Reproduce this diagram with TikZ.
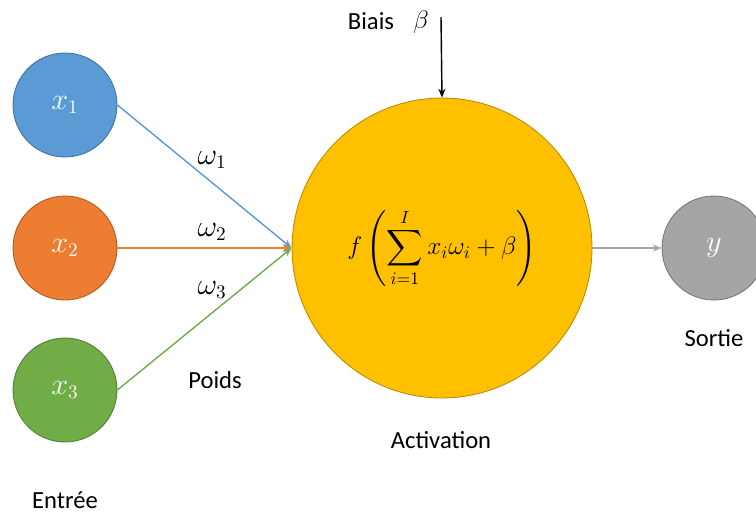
\documentclass[tikz,border=0pt]{standalone}
\usepackage{amsmath}
\usepackage{fontspec}
\setmainfont{Carlito}
\usetikzlibrary{arrows.meta,positioning}
\definecolor{bleu}{HTML}{5B9BD5}
\definecolor{bleuB}{HTML}{41719C}
\definecolor{orange}{HTML}{ED7D31}
\definecolor{orangeB}{HTML}{AE5A21}
\definecolor{vert}{HTML}{70AD47}
\definecolor{vertB}{HTML}{507E32}
\definecolor{jaune}{HTML}{FFC000}
\definecolor{jauneB}{HTML}{BC8C00}
\definecolor{gris}{HTML}{A5A5A5}
\definecolor{grisB}{HTML}{787878}

\begin{document}
\begin{tikzpicture}[x=0.02cm, y=-0.02cm,
  every node/.style={align=center, font=\fontsize{14}{17}\selectfont},
  neurone/.style={circle, draw, line width=0.5pt, minimum size=2.08cm, inner sep=0pt,
    text=white, font=\fontsize{16}{19}\selectfont},
  poids/.style={font=\fontsize{16}{19}\selectfont},
  lien/.style={-{Stealth[length=5pt,width=4pt]}, line width=0.8pt}]
  \clip (0,0) rectangle (756,518);
  \node[neurone, fill=bleu, draw=bleuB] (x1) at (65,105) {$x_1$};
  \node[neurone, fill=orange, draw=orangeB] (x2) at (65,248) {$x_2$};
  \node[neurone, fill=vert, draw=vertB] (x3) at (65,390) {$x_3$};
  \node[neurone, fill=jaune, draw=jauneB, minimum size=6cm, text=black,
    font=\fontsize{14}{17}\selectfont] (act) at (442,248)
    {$\displaystyle f\left(\sum_{i=1}^{I} x_i\omega_i+\beta\right)$};
  \node[neurone, fill=gris, draw=grisB] (y) at (714,248) {$y$};
  \coordinate (biais) at (441,17);

  \draw[lien, bleu] (x1.east) -- (act.west);
  \draw[lien, orange] (x2.east) -- (act.west);
  \draw[lien, vert] (x3.east) -- (act.west);
  \draw[lien, gris] (act.east) -- (y.west);
  \draw[lien, black] (biais) -- (act.north);

  \node[poids] (w1) at (212,160) {$\omega_1$};
  \node[poids] (w2) at (212,232) {$\omega_2$};
  \node[poids] (w3) at (212,290) {$\omega_3$};
  \node (lpoids) at (215,380) {Poids};
  \node (activ) at (441,440) {Activation};
  \node (entree) at (65,500) {Entrée};
  \node (sortie) at (714,338) {Sortie};
  \node (lbiais) at (371,21) {Biais};
  \node[font=\fontsize{15}{17}\selectfont] (beta) at (421,22) {$\beta$};
\end{tikzpicture}
\end{document}
